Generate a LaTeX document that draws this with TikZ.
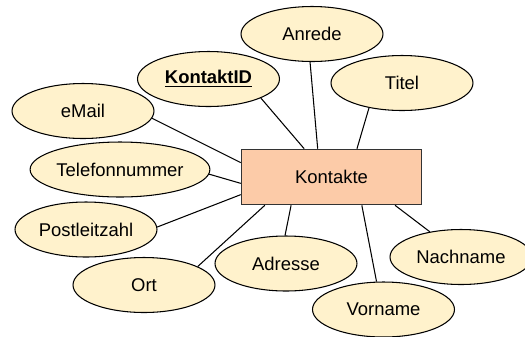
\documentclass[tikz,border=0pt]{standalone}
\usepackage{fontspec}
\setmainfont{Liberation Sans}
\usepackage{xcolor}
\usetikzlibrary{shapes.geometric}
\definecolor{attrfill}{HTML}{FFF2CC}
\definecolor{entityfill}{HTML}{FCCBA8}

\begin{document}
\begin{tikzpicture}[x=0.02cm, y=-0.02cm,
    attr/.style={ellipse, draw, line width=0.6pt, fill=attrfill, inner sep=0pt,
      minimum width=2.84cm, minimum height=1.1cm, font=\fontsize{10.5}{12}\selectfont},
    entity/.style={rectangle, draw=black!80, line width=0.9pt, fill=entityfill, inner sep=0pt,
      minimum width=3.6cm, minimum height=1.1cm, font=\fontsize{10.5}{12}\selectfont}]
    \useasboundingbox (0,0) rectangle (525,336);
    \node[entity] (kontakte) at (331.5,177) {Kontakte};
    \node[attr] (anrede) at (312,34) {Anrede};
    \node[attr] (kontaktid) at (208.5,79) {\textbf{\underline{KontaktID}}};
    \node[attr] (titel) at (402,83) {Titel};
    \node[attr] (email) at (83,111) {eMail};
    \node[attr] (telefon) at (120,169.5) {Telefonnummer};
    \node[attr] (plz) at (86,229.5) {Postleitzahl};
    \node[attr] (ort) at (144,285) {Ort};
    \node[attr] (adresse) at (286,263.5) {Adresse};
    \node[attr] (vorname) at (383.5,309.5) {Vorname};
    \node[attr] (nachname) at (461,257) {Nachname};
    % connectors from the attributes to the entity
    \foreach \n/\a/\b in {email/-6/171, kontaktid/-20/134, anrede/-94/116, titel/-143/48,
        telefon/-3/184, plz/2/191, ort/19/203, adresse/92/215, vorname/104/-43, nachname/141/-24}
        {
          \draw[line width=0.6pt] (\n.\a) -- (kontakte.\b);
        };
\end{tikzpicture}
\end{document}
